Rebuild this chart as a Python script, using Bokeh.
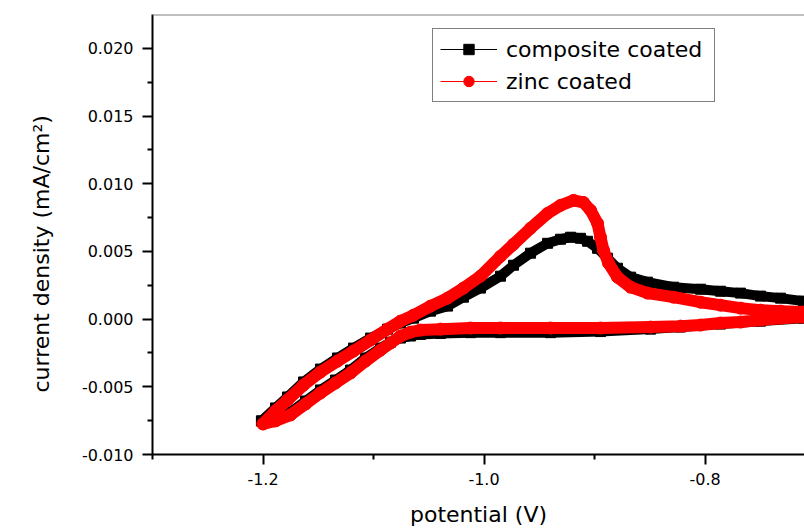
from bokeh.plotting import figure
from bokeh.models import (Range1d, FixedTicker, PrintfTickFormatter, Legend,
                          LegendItem, Span, Title)
from bokeh.embed import file_html
from bokeh.resources import INLINE

# ---- data (potential in V, current density in mA/cm^2) ----
composite_fwd_potential = [-1.2014, -1.1887, -1.1778, -1.1633, -1.1480, -1.1326, -1.1181, -1.1027,
                           -1.0873, -1.0756, -1.0638, -1.0484, -1.0330, -1.0186, -1.0032, -0.9851,
                           -0.9733, -0.9579, -0.9425, -0.9308, -0.9217, -0.9127, -0.9063, -0.8973,
                           -0.8882, -0.8792, -0.8674, -0.8520, -0.8285, -0.8041, -0.7860, -0.7679,
                           -0.7498, -0.7317, -0.7109, -0.7000]
composite_fwd_current = [-0.00752, -0.00656, -0.00575, -0.00464, -0.00369, -0.00287, -0.00214, -0.00140,
                         -0.00074, -0.00029, 0.00007, 0.00059, 0.00096, 0.00162, 0.00229, 0.00317,
                         0.00398, 0.00487, 0.00560, 0.00590, 0.00605, 0.00597, 0.00575, 0.00523,
                         0.00450, 0.00376, 0.00310, 0.00273, 0.00236, 0.00221, 0.00206, 0.00192,
                         0.00170, 0.00155, 0.00133, 0.00103]
composite_rev_potential = [-0.7109, -0.7498, -0.7860, -0.8222, -0.8493, -0.8946, -0.9398, -0.9851,
                           -1.0122, -1.0394, -1.0575, -1.0665, -1.0756, -1.0846, -1.0937, -1.1072,
                           -1.1208, -1.1344, -1.1480, -1.1615, -1.1751, -1.1887, -1.2014]
composite_rev_current = [0.00007, -0.00015, -0.00037, -0.00059, -0.00074, -0.00092, -0.00100, -0.00100,
                         -0.00100, -0.00106, -0.00113, -0.00125, -0.00140, -0.00170, -0.00214, -0.00287,
                         -0.00376, -0.00450, -0.00523, -0.00605, -0.00686, -0.00737, -0.00752]

zinc_fwd_potential = [-1.2000, -1.1887, -1.1778, -1.1633, -1.1480, -1.1326, -1.1181, -1.1027,
                      -1.0873, -1.0756, -1.0638, -1.0484, -1.0330, -1.0186, -1.0032, -0.9851,
                      -0.9733, -0.9579, -0.9425, -0.9308, -0.9190, -0.9100, -0.9036, -0.8973,
                      -0.8946, -0.8919, -0.8873, -0.8792, -0.8674, -0.8520, -0.8285, -0.8041,
                      -0.7860, -0.7679, -0.7498, -0.7317, -0.7109, -0.7000]
zinc_fwd_current = [-0.00774, -0.00678, -0.00597, -0.00487, -0.00391, -0.00310, -0.00236, -0.00155,
                    -0.00074, -0.00015, 0.00029, 0.00096, 0.00155, 0.00229, 0.00317, 0.00464,
                    0.00553, 0.00671, 0.00781, 0.00840, 0.00877, 0.00862, 0.00804, 0.00708,
                    0.00605, 0.00509, 0.00413, 0.00310, 0.00236, 0.00192, 0.00162, 0.00125,
                    0.00103, 0.00081, 0.00066, 0.00059, 0.00052, 0.00037]
zinc_rev_potential = [-0.7109, -0.7317, -0.7498, -0.7679, -0.7860, -0.8041, -0.8222, -0.8493,
                      -0.8946, -0.9398, -0.9851, -1.0122, -1.0394, -1.0575, -1.0665, -1.0756,
                      -1.0846, -1.0937, -1.1072, -1.1208, -1.1344, -1.1480, -1.1615, -1.1751,
                      -1.1887, -1.2000]
zinc_rev_current = [0.00015, 0.00007, -0.00007, -0.00022, -0.00029, -0.00044, -0.00052, -0.00059,
                    -0.00066, -0.00066, -0.00066, -0.00066, -0.00074, -0.00081, -0.00096, -0.00125,
                    -0.00177, -0.00229, -0.00310, -0.00398, -0.00472, -0.00546, -0.00627, -0.00708,
                    -0.00752, -0.00774]

series_names = ["composite coated", "zinc coated"]
x_major_ticks = [-1.2, -1.0, -0.8]
x_minor_ticks = [-1.3, -1.1, -0.9, -0.7]
y_major_ticks = [-0.010, -0.005, 0.000, 0.005, 0.010, 0.015, 0.020]
y_minor_ticks = [-0.0075, -0.0025, 0.0025, 0.0075, 0.0125, 0.0175]
x_title = "potential (V)"
y_title = "current density (mA/cm²)"

FONT = "DejaVu Sans"

p = figure(width=804, height=529, x_range=Range1d(-1.3, -0.71), y_range=Range1d(-0.0100, 0.0225),
           output_backend="svg", toolbar_location=None,
           min_border_left=152, min_border_right=0, min_border_top=14, min_border_bottom=74)
p.xgrid.visible = False
p.ygrid.visible = False
p.outline_line_color = None
p.background_fill_color = "white"
p.border_fill_color = "white"

# composite (black squares)
cx = composite_fwd_potential + composite_rev_potential
cy = composite_fwd_current + composite_rev_current
p.line(cx, cy, line_width=10, color="black", line_join="round", line_cap="round")
c_line = p.line(cx, cy, line_width=1, color="black")
c_pts = p.scatter(cx, cy, marker="square", size=10, color="black")

# zinc (red circles)
zx = zinc_fwd_potential + zinc_rev_potential
zy = zinc_fwd_current + zinc_rev_current
p.line(zx, zy, line_width=12, color="red", line_join="round", line_cap="round")
z_line = p.line(zx, zy, line_width=1, color="red")
z_pts = p.scatter(zx, zy, marker="circle", size=12, color="red")

# axes
for ax in (p.xaxis[0], p.yaxis[0]):
    ax.axis_line_width = 2
    ax.axis_line_color = "black"
    ax.major_tick_line_width = 2
    ax.minor_tick_line_width = 2
    ax.major_tick_out = 10
    ax.major_tick_in = 0
    ax.minor_tick_out = 5
    ax.minor_tick_in = 0
    ax.major_label_text_font = FONT
    ax.major_label_text_font_size = "16px"
    ax.major_label_text_color = "black"

p.xaxis.ticker = FixedTicker(ticks=x_major_ticks, minor_ticks=x_minor_ticks)
p.xaxis.formatter = PrintfTickFormatter(format="%.1f")
p.xaxis.major_label_standoff = 8
p.xaxis.axis_label = x_title
p.xaxis.axis_label_text_font = FONT
p.xaxis.axis_label_text_font_size = "22px"
p.xaxis.axis_label_text_font_style = "normal"
p.xaxis.axis_label_text_color = "black"
p.xaxis.axis_label_standoff = 14

p.yaxis.ticker = FixedTicker(ticks=y_major_ticks, minor_ticks=y_minor_ticks)
p.yaxis.formatter = PrintfTickFormatter(format="%.3f")
p.yaxis.major_label_standoff = 9

ytitle = Title(text=y_title, align="left", offset=62, standoff=50,
               text_font=FONT, text_font_size="22px", text_font_style="normal",
               text_color="black")
p.add_layout(ytitle, "left")

# grey top edge
p.add_layout(Span(location=0.0225, dimension="width", line_color="#808080", line_width=2))

legend = Legend(items=[LegendItem(label=series_names[0], renderers=[c_line, c_pts]),
                       LegendItem(label=series_names[1], renderers=[z_line, z_pts])],
                location=(280, 352), glyph_width=57, glyph_height=26, label_standoff=9,
                label_width=201, padding=7, spacing=6, margin=0,
                label_text_font=FONT, label_text_font_size="22px",
                label_text_color="black", border_line_color="black", border_line_width=1,
                background_fill_color="white", background_fill_alpha=1.0)
p.add_layout(legend)

open("out.html", "w").write(file_html(p, INLINE))
